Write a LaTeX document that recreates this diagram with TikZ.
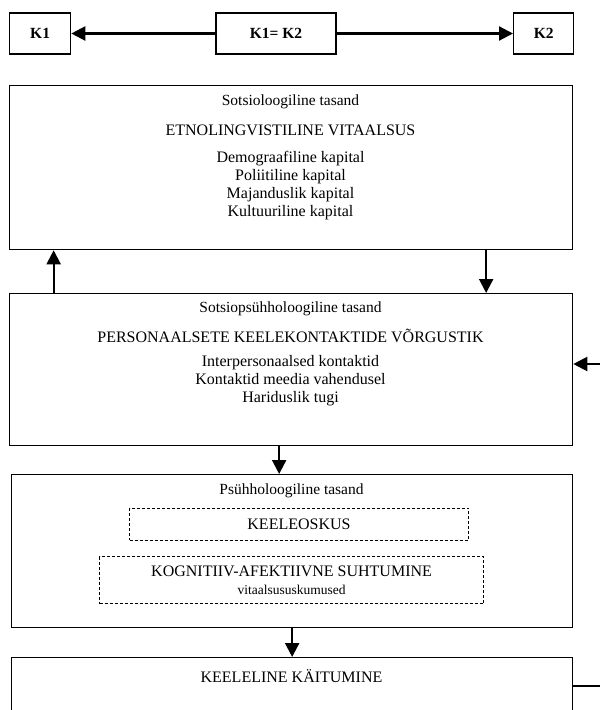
\documentclass[tikz,border=0pt]{standalone}
\usepackage{fontspec}
\setmainfont{Liberation Serif}
\usetikzlibrary{arrows.meta}

\newcommand{\lvlfont}{\fontsize{15.5}{18}\selectfont}
\newcommand{\bodyfont}{\fontsize{16}{18}\selectfont}

\begin{document}
\begin{tikzpicture}[x=1pt,y=-1pt,
    every text node part/.style={align=center},
    every node/.style={font=\bodyfont},
    lvl/.style={font=\lvlfont},
    panel/.style={draw,line width=1.3pt,inner sep=0pt,anchor=north west},
    kbox/.style={draw,line width=1.3pt,minimum height=41pt,inner ysep=0pt,font=\lvlfont\bfseries},
    dbox/.style={draw,line width=0.9pt,dash pattern=on 3pt off 2pt,inner sep=0pt},
    arr/.style={line width=2.2pt,-{Triangle[length=14pt,width=14pt]}}]
      \useasboundingbox (0,0) rectangle (600,710);

      \node[kbox,anchor=west,inner xsep=15pt,text width=31pt,align=left] (K1)  at (9,33.5)   {K1};
      \node[kbox,minimum width=120pt]                                    (K12) at (276,33.5) {K1= K2};
      \node[kbox,anchor=west,inner xsep=14pt,text width=32pt,align=left] (K2)  at (513,33.5) {K2};

      \node[panel,minimum width=563pt,minimum height=164pt] (soc)  at (9,85)   {};
      \node[panel,minimum width=563pt,minimum height=152pt] (netw) at (9,293)  {};
      \node[panel,minimum width=561pt,minimum height=153pt] (psy)  at (11,474) {};
      \node[panel,minimum width=561pt,minimum height=58pt]  (beh)  at (11,657) {};

      \node[lvl] (socLvl)   at (290.5,102) {Sotsioloogiline tasand};
      \node (socHead)  at (290.5,130) {ETNOLINGVISTILINE VITAALSUS};
      \node (socList)  at (290.5,186) {Demograafiline kapital\\Poliitiline kapital\\Majanduslik kapital\\Kultuuriline kapital};

      \node[lvl] (netwLvl)  at (290.5,309) {Sotsiopsühholoogiline tasand};
      \node (netwHead) at (290.5,336) {PERSONAALSETE KEELEKONTAKTIDE VÕRGUSTIK};
      \node (netwList) at (290.5,381) {Interpersonaalsed kontaktid\\Kontaktid meedia vahendusel\\Hariduslik tugi};

      \node[lvl] (psyLvl)   at (291.5,491) {Psühholoogiline tasand};
      \node[dbox,minimum width=339pt,minimum height=32pt] (oskus) at (299,524) {KEELEOSKUS};
      \node[dbox,minimum width=384pt,minimum height=47pt] (suht)  at (291.6,580)
           {KOGNITIIV-AFEKTIIVNE SUHTUMINE\\{\fontsize{13.5}{16}\selectfont vitaalsususkumused}};

      \node (behHead)  at (291.5,676) {KEELELINE KÄITUMINE};

      \coordinate (fbLow)  at (606,686);
      \coordinate (fbHigh) at (606,364);

      \draw[arr] (K12.west) -- (K1.east);
      \draw[arr] (K12.east) -- (K2.west);

      \draw[arr] ([xshift=195pt]soc.south)  -- ([xshift=195pt]netw.north);
      \draw[arr] ([xshift=-237.5pt]netw.north) -- ([xshift=-237.5pt]soc.south);
      \draw[arr] ([xshift=-12pt]netw.south) -- ([xshift=-12pt]netw.south |- psy.north);
      \draw[arr] (psy.south) -- (beh.north);

      \draw[arr] (beh.east |- fbLow) -- (fbLow) -- (fbHigh) -- (netw.east |- fbHigh);
    \end{tikzpicture}
\end{document}
